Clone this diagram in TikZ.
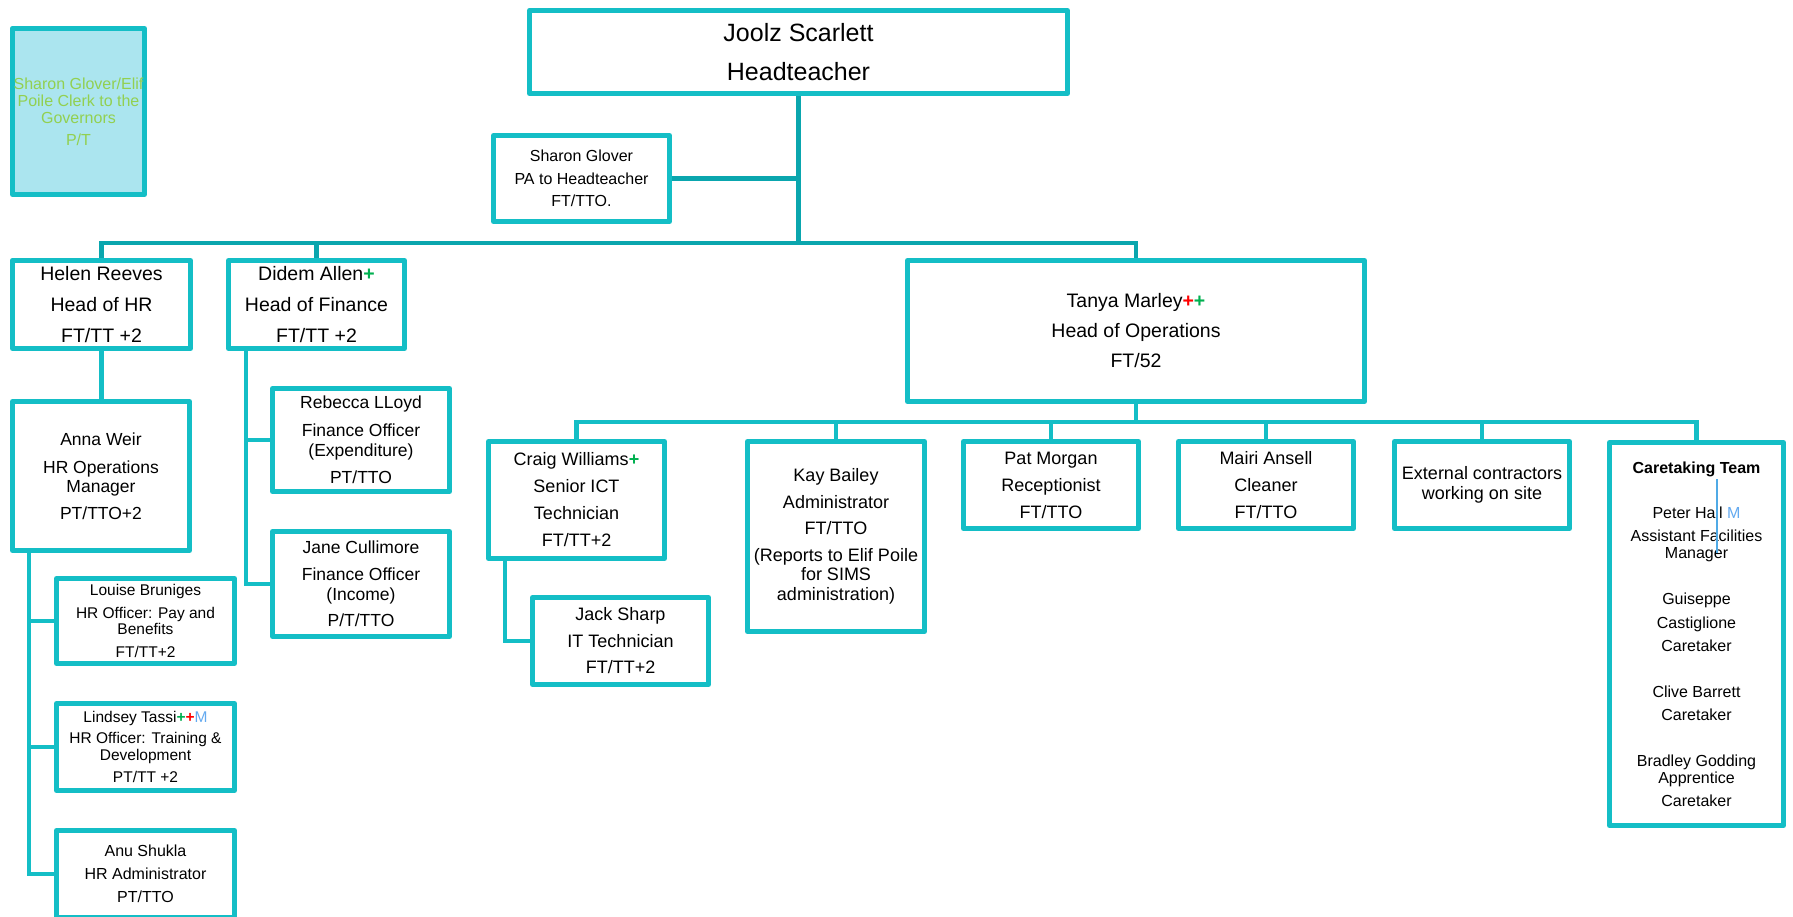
\documentclass[tikz,border=0pt]{standalone}
\usepackage{fontspec}
\setmainfont{Liberation Sans}
\definecolor{boxc}{RGB}{20,190,198}
\definecolor{darkc}{RGB}{10,166,174}
\definecolor{clerkfill}{RGB}{171,229,239}
\definecolor{clerktext}{RGB}{146,208,80}
\definecolor{pgreen}{RGB}{0,176,80}
\definecolor{pred}{RGB}{255,0,0}
\definecolor{mblue}{RGB}{100,170,240}
\definecolor{lineblue}{RGB}{80,170,230}
\newcommand{\plusG}{\textcolor{pgreen}{\textbf{+}}}
\newcommand{\plusR}{\textcolor{pred}{\textbf{+}}}
\newcommand{\markM}{\textcolor{mblue}{M}}
\pgfdeclarelayer{background}
\pgfsetlayers{background,main}
\newcommand{\fs}[2]{\fontsize{#1}{#2}\selectfont}
\begin{document}
\begin{tikzpicture}[x=1pt,y=-1pt,
  box/.style={draw=boxc, line width=4.8pt, fill=white, inner sep=0pt, outer sep=0pt,
    align=center, text=black, line join=round},
  conn/.style={draw=boxc, line width=4.8pt, line join=miter},
  mainconn/.style={draw=darkc, line width=4.8pt, line join=miter}]
\useasboundingbox (0,0) rectangle (1793,917);
% top level
\node[box, minimum width=538.2pt, minimum height=83.2pt, font=\fs{25}{39}] (head) at (798.5,52) {Joolz Scarlett\\Headteacher};
\node[box, minimum width=176.2pt, minimum height=86.2pt, font=\fs{16}{22.5}] (pa) at (581.5,178.5) {Sharon Glover\\PA to Headteacher\\FT/TTO.};
\node[box, fill=clerkfill, text=clerktext, minimum width=132.2pt, minimum height=166.2pt, font=\fs{16}{17}] (clerk) at (78.5,111.5) {Sharon Glover/Elif\\Poile Clerk to the\\Governors\\[5pt]P/T};
% heads
\node[box, minimum width=178.2pt, minimum height=88.2pt, font=\fs{19.5}{31}] (helen) at (101.5,304.5) {Helen Reeves\\Head of HR\\FT/TT +2};
\node[box, minimum width=176.2pt, minimum height=88.2pt, font=\fs{19.5}{31}] (didem) at (316.5,304.5) {Didem Allen\plusG\\Head of Finance\\FT/TT +2};
\node[box, minimum width=457.2pt, minimum height=141.2pt, font=\fs{19.5}{30}] (tanya) at (1136,331) {Tanya Marley\plusR\plusG\\Head of Operations\\FT/52};
% HR
\node[box, minimum width=177.2pt, minimum height=149.2pt, font=\fs{17.5}{19}] (anna) at (101,476) {Anna Weir\\[8.5pt]HR Operations\\Manager\\[8pt]PT/TTO+2};
\node[box, minimum width=178.2pt, minimum height=85.2pt, font=\fs{15.5}{16}] (louise) at (145.5,621) {Louise Bruniges\\[6.5pt]HR Officer: Pay and\\Benefits\\[7pt]FT/TT+2};
\node[box, minimum width=178.2pt, minimum height=87.2pt, font=\fs{15.5}{17}] (lindsey) at (145.5,747) {Lindsey Tassi\plusG\plusR\markM\\[4.5pt]HR Officer: Training \&\\Development\\[5pt]PT/TT +2};
\node[box, minimum width=178.2pt, minimum height=87.2pt, font=\fs{16}{23}] (anu) at (145.5,874) {Anu Shukla\\HR Administrator\\PT/TTO};
% Finance
\node[box, minimum width=177.2pt, minimum height=103.2pt, font=\fs{17.5}{20}] (rebecca) at (361,440) {Rebecca LLoyd\\[8pt]Finance Officer\\(Expenditure)\\[7pt]PT/TTO};
\node[box, minimum width=177.2pt, minimum height=105.2pt, font=\fs{17.5}{20}] (jane) at (361,584) {Jane Cullimore\\[7pt]Finance Officer\\(Income)\\[6pt]P/T/TTO};
% Operations
\node[box, minimum width=176.2pt, minimum height=117.2pt, font=\fs{18}{27}] (craig) at (576.5,500) {Craig Williams\plusG\\Senior ICT\\Technician\\FT/TT+2};
\node[box, minimum width=176.2pt, minimum height=87.2pt, font=\fs{18}{26.5}] (jack) at (620.5,641) {Jack Sharp\\IT Technician\\FT/TT+2};
\node[box, minimum width=177.2pt, minimum height=190.2pt, font=\fs{18}{19.5}] (kay) at (836,536.5) {Kay Bailey\\[7pt]Administrator\\[7pt]FT/TTO\\[7pt](Reports to Elif Poile\\for SIMS\\administration)};
\node[box, minimum width=175.2pt, minimum height=87.2pt, font=\fs{18}{27}] (pat) at (1051,485) {Pat Morgan\\Receptionist\\FT/TTO};
\node[box, minimum width=175.2pt, minimum height=87.2pt, font=\fs{18}{27}] (mairi) at (1266,485) {Mairi Ansell\\Cleaner\\FT/TTO};
\node[box, minimum width=175.2pt, minimum height=87.2pt, font=\fs{18}{19.5}] (ext) at (1482,485) {External contractors\\working on site};
\node[box, minimum width=174.2pt, minimum height=383.2pt, font=\fs{16}{17}] (care) at (1696.5,634) {\textbf{Caretaking Team}\\[28pt]Peter Hall \markM\\[6pt]Assistant Facilities\\Manager\\[29pt]Guiseppe\\[7pt]Castiglione\\[6pt]Caretaker\\[29.5pt]Clive Barrett\\[5.5pt]Caretaker\\[29pt]Bradley Godding\\Apprentice\\[6pt]Caretaker};
\coordinate (b1) at (1717,479);
\coordinate (b2) at (1717,553);
\draw[lineblue, line width=2pt] (b1) -- (b2);
% connectors
\begin{pgfonlayer}{background}
\fill[white] (0,0) rectangle (1793,917);
\coordinate (barL) at (helen.north |- 0,243);
\draw[mainconn] (head.south) -- (head.south |- barL);
\draw[mainconn] (pa.east) -- (pa.east -| head.south);
\draw[mainconn] (helen.north) -- (barL) -| (tanya.north);
\draw[mainconn] (didem.north) -- (didem.north |- barL);
\draw[conn] (helen.south) -- (helen.south |- anna.north);
\coordinate (aT) at ([xshift=-72pt]anna.south);
\draw[conn] (aT) |- (anu.west);
\draw[conn] (aT |- louise.west) -- (louise.west);
\draw[conn] (aT |- lindsey.west) -- (lindsey.west);
\coordinate (dT) at ([xshift=-70.5pt]didem.south);
\draw[conn] (dT) |- (jane.west);
\draw[conn] (dT |- rebecca.west) -- (rebecca.west);
\coordinate (opsbar) at (tanya.south |- 0,422);
\draw[conn] (tanya.south) -- (opsbar);
\draw[conn] (craig.north) |- (opsbar) -| (care.north);
\draw[conn] (kay.north) -- (kay.north |- opsbar);
\draw[conn] (pat.north) -- (pat.north |- opsbar);
\draw[conn] (mairi.north) -- (mairi.north |- opsbar);
\draw[conn] (ext.north) -- (ext.north |- opsbar);
\coordinate (cT) at ([xshift=-71.5pt]craig.south);
\draw[conn] (cT) |- (jack.west);
\end{pgfonlayer}
\end{tikzpicture}
\end{document}
